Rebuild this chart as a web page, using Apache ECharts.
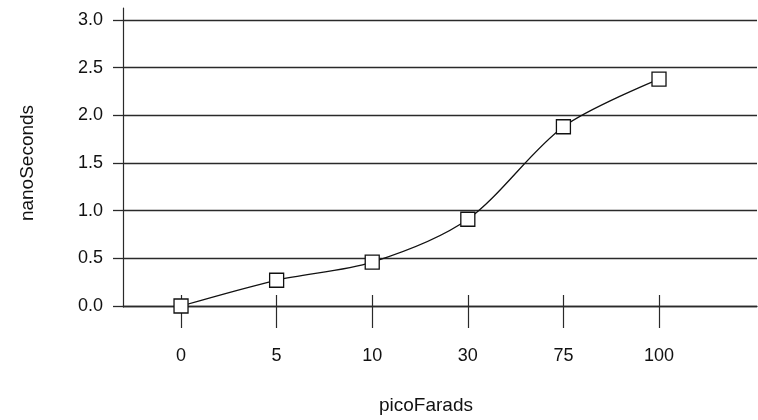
<!DOCTYPE html>
<html>
<head>
<meta charset="utf-8">
<script src="https://cdn.jsdelivr.net/npm/echarts@6/dist/echarts.min.js"></script>
<style>html,body{margin:0;padding:0;background:#fff}#c{width:758px;height:420px}</style>
</head>
<body>
<div id="c"></div>
<script>
var categories = ['0', '5', '10', '30', '75', '100'];
var nanoSeconds = [0, 0.27, 0.46, 0.91, 1.88, 2.38];
var yTicks = [0, 0.5, 1.0, 1.5, 2.0, 2.5, 3.0];

var idx = categories.map(function (c, i) { return i; });
var seriesData = nanoSeconds.map(function (v, i) { return [i, v]; });
var font = '"Liberation Sans", Arial, Helvetica, sans-serif';
var ink = '#2a2a2a';

var chart = echarts.init(document.getElementById('c'), null, {renderer: 'canvas'});
chart.setOption({
  animation: false,
  grid: [
    {left: 123, right: 1, top: 20, bottom: 113, containLabel: false},
    {left: 123, right: 1, top: 8, bottom: 113, containLabel: false}
  ],
  xAxis: [
    {
      type: 'value', gridIndex: 0, min: -0.607, max: 6.025,
      name: 'picoFarads', nameLocation: 'middle', nameGap: 90,
      nameTextStyle: {fontFamily: font, fontSize: 19, color: '#111', padding: [0, 28, 0, 0]},
      axisLine: {show: true, onZero: false, lineStyle: {color: ink, width: 1.3}},
      axisTick: {show: true, inside: true, length: 11, customValues: idx, lineStyle: {color: ink, width: 1.2}},
      axisLabel: {show: true, margin: 41, customValues: idx, fontFamily: font, fontSize: 18, color: '#111',
        formatter: function (v) { return categories[Math.round(v)]; }},
      splitLine: {show: false}
    },
    {
      type: 'value', gridIndex: 0, min: -0.607, max: 6.025, position: 'bottom',
      axisLine: {show: false, onZero: false},
      axisTick: {show: true, inside: false, length: 22, customValues: idx, lineStyle: {color: ink, width: 1.2}},
      axisLabel: {show: false},
      splitLine: {show: false}
    },
    {
      type: 'value', gridIndex: 1, min: 0, max: 1, show: false
    }
  ],
  yAxis: [
    {
      type: 'value', gridIndex: 0, min: 0, max: 3, interval: 0.5,
      name: 'nanoSeconds', nameLocation: 'middle', nameGap: 86,
      nameTextStyle: {fontFamily: font, fontSize: 19, color: '#111'},
      axisLine: {show: false, onZero: false},
      axisTick: {show: true, inside: false, length: 10, lineStyle: {color: ink, width: 1.3}},
      axisLabel: {margin: 20, fontFamily: font, fontSize: 18, color: '#111',
        formatter: function (v) { return v.toFixed(1); }},
      splitLine: {show: true, lineStyle: {color: ink, width: 1.3}}
    },
    {
      type: 'value', gridIndex: 1, min: 0, max: 1,
      axisLine: {show: true, onZero: false, lineStyle: {color: ink, width: 1.2}},
      axisTick: {show: false}, axisLabel: {show: false}, splitLine: {show: false}
    }
  ],
  series: [{
    type: 'line', xAxisIndex: 0, yAxisIndex: 0,
    data: seriesData,
    smooth: 0.3,
    symbol: 'rect', symbolSize: 14,
    itemStyle: {color: '#fff', borderColor: '#111', borderWidth: 1.3},
    lineStyle: {color: '#111', width: 1.3},
    z: 5
  }]
});
</script>
</body>
</html>
